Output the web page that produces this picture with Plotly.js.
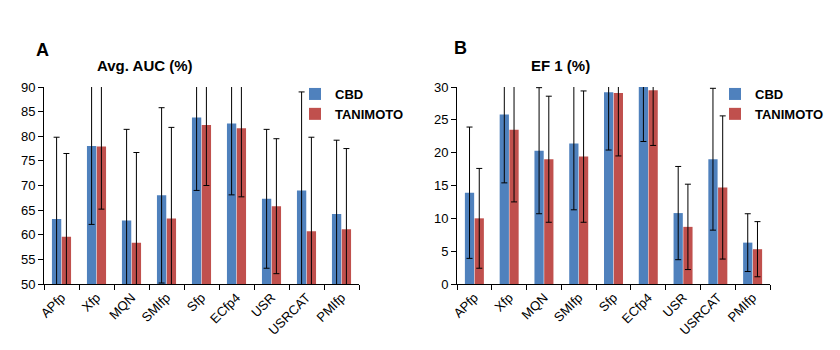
<!DOCTYPE html>
<html>
<head>
<meta charset="utf-8">
<script src="https://cdn.plot.ly/plotly-3.0.1.min.js"></script>
<style>html,body{margin:0;padding:0;background:#fff}#chart{width:840px;height:350px}</style>
</head>
<body>
<div id="chart"></div>
<script>
const categories = ['APfp','Xfp','MQN','SMIfp','Sfp','ECfp4','USR','USRCAT','PMIfp'];
const seriesNames = ['CBD','TANIMOTO'];
const aucCBD = [63.2,78.0,62.9,68.0,83.8,82.6,67.3,69.0,64.2];
const aucCBDErr = [16.6,15.9,18.5,17.8,14.8,14.5,14.1,20.0,15.0];
const aucTAN = [59.6,77.9,58.4,63.3,82.3,81.6,65.8,60.7,61.1];
const aucTANErr = [16.9,12.7,18.3,18.5,12.3,13.9,13.7,19.1,16.4];
const efCBD = [13.9,25.8,20.3,21.4,29.2,30.0,10.8,19.0,6.3];
const efCBDErr = [10.0,10.4,9.6,10.1,8.8,8.3,7.1,10.8,4.4];
const efTAN = [10.0,23.5,19.0,19.4,29.1,29.5,8.7,14.7,5.3];
const efTANErr = [7.6,11.0,9.6,10.0,9.6,8.4,6.5,10.9,4.2];
const panelTitles = ['Avg. AUC (%)','EF 1 (%)'];
const panelLetters = ['A','B'];

const colors = ['#4f81bd','#c0504d'];
const font = 'Liberation Sans, Arial, sans-serif';

function bar(y, err, i, xa, ya, leg) {
  return {
    type: 'bar', x: categories, y: y, name: seriesNames[i],
    xaxis: xa, yaxis: ya, legend: leg,
    marker: {color: colors[i], line: {width: 0}},
    error_y: {type: 'data', array: err, visible: true, color: '#000', thickness: 1, width: 3},
    hoverinfo: 'x+y'
  };
}

const data = [
  bar(aucCBD, aucCBDErr, 0, 'x', 'y', 'legend'),
  bar(aucTAN, aucTANErr, 1, 'x', 'y', 'legend'),
  bar(efCBD, efCBDErr, 0, 'x2', 'y2', 'legend2'),
  bar(efTAN, efTANErr, 1, 'x2', 'y2', 'legend2')
];

const xCommon = {
  type: 'category', showline: true, linecolor: '#000', linewidth: 1,
  ticks: 'outside', tickson: 'boundaries', ticklen: 5, tickcolor: '#000',
  tickangle: -45, tickfont: {family: font, size: 13, color: '#000'},
  showgrid: false, zeroline: false, fixedrange: true
};
const yCommon = {
  showline: true, linecolor: '#000', linewidth: 1,
  ticks: 'outside', ticklen: 5, tickcolor: '#000',
  tickfont: {family: font, size: 13, color: '#000'},
  showgrid: false, zeroline: false, dtick: 5, fixedrange: true
};
const legCommon = {
  font: {family: font, size: 13, color: '#000', weight: 'bold'},
  bgcolor: 'rgba(0,0,0,0)', itemwidth: 30, tracegroupgap: 0,
  xanchor: 'left', yanchor: 'top'
};

const layout = {
  width: 840, height: 350,
  margin: {l: 0, r: 0, t: 0, b: 0},
  paper_bgcolor: '#fff', plot_bgcolor: 'rgba(0,0,0,0)',
  barmode: 'group', bargap: 0.44, bargroupgap: 0.05,
  font: {family: font, color: '#000'},
  xaxis: Object.assign({}, xCommon, {domain: [44/840, 359/840], anchor: 'y'}),
  yaxis: Object.assign({}, yCommon, {domain: [66/350, 263/350], range: [50, 90], anchor: 'x'}),
  xaxis2: Object.assign({}, xCommon, {domain: [457/840, 770/840], anchor: 'y2'}),
  yaxis2: Object.assign({}, yCommon, {domain: [66/350, 263/350], range: [0, 30], anchor: 'x2'}),
  legend: Object.assign({}, legCommon, {x: 295/840, y: 1 - 79/350}),
  legend2: Object.assign({}, legCommon, {x: 715/840, y: 1 - 79/350}),
  annotations: [
    {text: panelLetters[0], x: 34/840, y: 1 - 50/350, xref: 'paper', yref: 'paper', xanchor: 'left', yanchor: 'middle', showarrow: false, font: {family: font, size: 18, weight: 'bold'}},
    {text: panelTitles[0], x: 145/840, y: 1 - 65/350, xref: 'paper', yref: 'paper', xanchor: 'center', yanchor: 'middle', showarrow: false, font: {family: font, size: 15, weight: 'bold'}},
    {text: panelLetters[1], x: 452/840, y: 1 - 48/350, xref: 'paper', yref: 'paper', xanchor: 'left', yanchor: 'middle', showarrow: false, font: {family: font, size: 18, weight: 'bold'}},
    {text: panelTitles[1], x: 560/840, y: 1 - 65/350, xref: 'paper', yref: 'paper', xanchor: 'center', yanchor: 'middle', showarrow: false, font: {family: font, size: 15, weight: 'bold'}}
  ]
};

Plotly.newPlot('chart', data, layout, {displayModeBar: false, staticPlot: true});
</script>
</body>
</html>
